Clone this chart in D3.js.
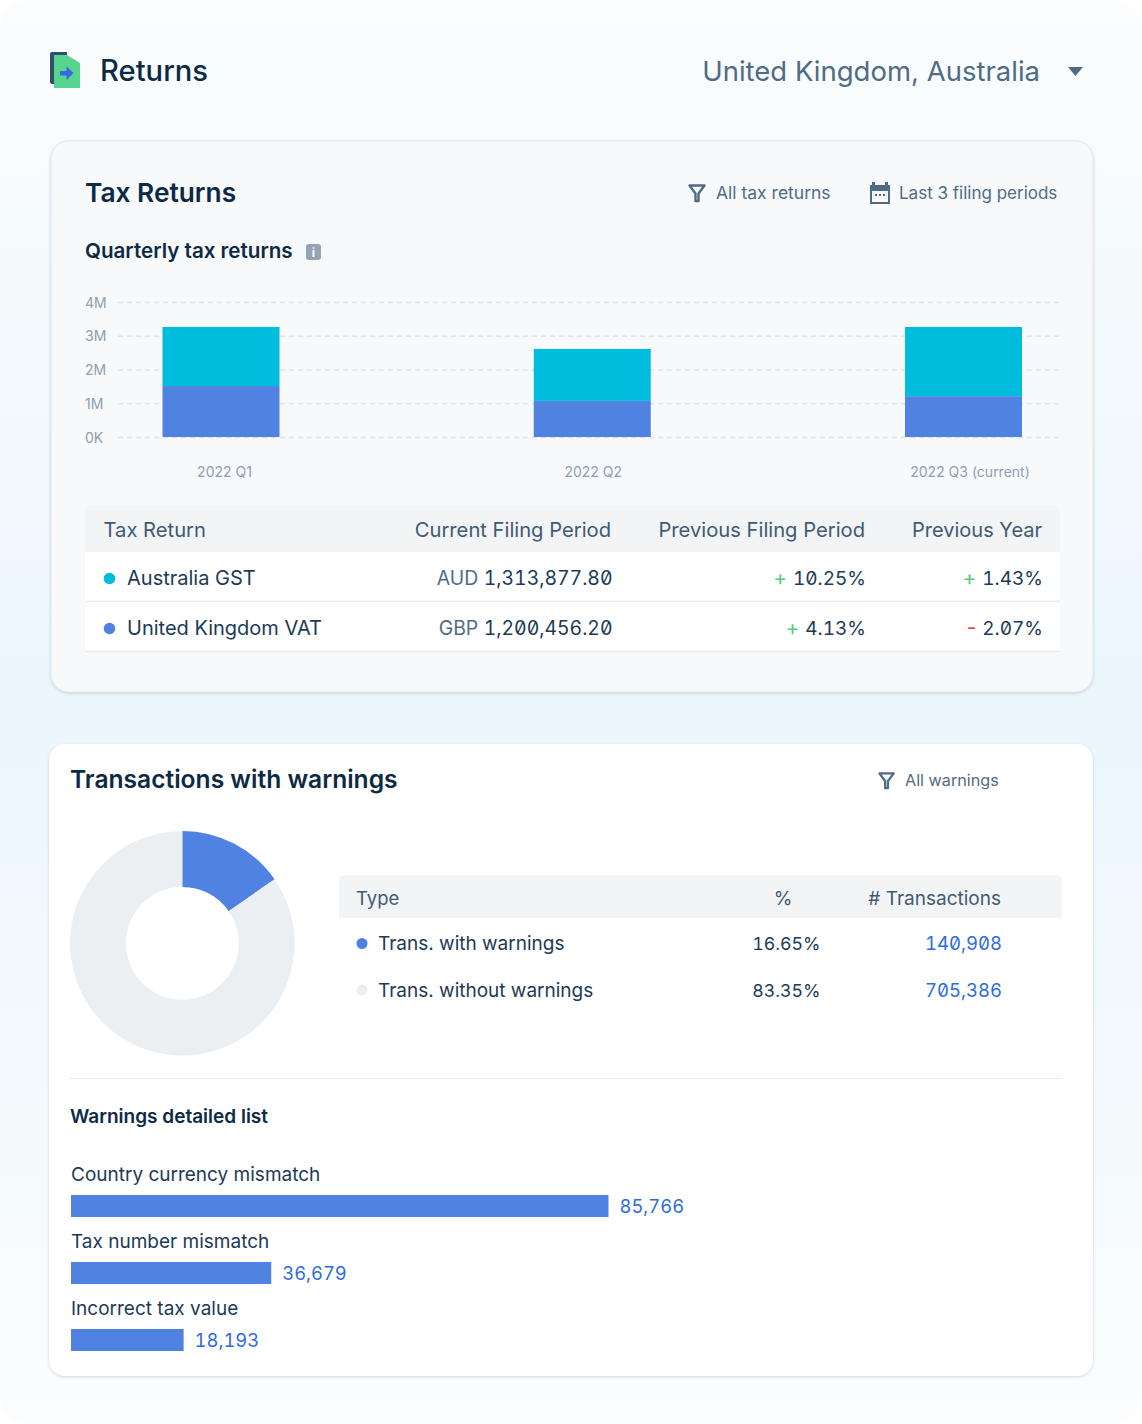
<!DOCTYPE html>
<html lang="en">
<head>
<meta charset="UTF-8">
<title>Returns</title>
<script src="https://d3js.org/d3.v7.min.js"></script>
<style>
  html, body { margin: 0; padding: 0; background: #fff; }
  svg { display: block; }
  text { font-family: Inter, "Noto Sans", sans-serif; }
  .num { font-feature-settings: "tnum" 1, "zero" 1; }
  .grid line { stroke: #dde4ea; stroke-width: 1.3; stroke-dasharray: 5 4; }
  .grid text, .quarter text { fill: #8d9fb0; font-size: 14px; }
</style>
</head>
<body>
<svg id="page" width="1142" height="1424"></svg>
<script>
// quarterly stacked bars, in millions
var quarters = ["2022 Q1", "2022 Q2", "2022 Q3 (current)"];
var ukVat = [1.51, 1.07, 1.21];
var australiaGst = [1.75, 1.54, 2.05];
var yTicks = [0, 1, 2, 3, 4];
var yTickLabels = ["0K", "1M", "2M", "3M", "4M"];

// tax return table
var returnHeaders = ["Tax Return", "Current Filing Period", "Previous Filing Period", "Previous Year"];
var returnNames = ["Australia GST", "United Kingdom VAT"];
var currencies = ["AUD", "GBP"];
var currentAmounts = ["1,313,877.80", "1,200,456.20"];
var prevPeriodSigns = ["+", "+"];
var prevPeriodChanges = ["10.25%", "4.13%"];
var prevYearSigns = ["+", "-"];
var prevYearChanges = ["1.43%", "2.07%"];

// donut, the slice is drawn a bit smaller than its printed share
var warningTypes = ["Trans. with warnings", "Trans. without warnings"];
var donutShares = [15.35, 84.65];
var warningPercents = ["16.65%", "83.35%"];
var warningCounts = ["140,908", "705,386"];

// detailed list, bar lengths as drawn in the picture
var detailNames = ["Country currency mismatch", "Tax number mismatch", "Incorrect tax value"];
var detailBars = [85766, 31950, 17970];
var detailLabels = ["85,766", "36,679", "18,193"];

var TEAL = "#00bcdd", BLUE = "#5082e2", GREY = "#ebeff2", LINK = "#2f6be0";
var DARK = "#0d2a45", BODY = "#1c3a56", MUTED = "#4f6b85", HEAD = "#3f5a73";

var svg = d3.select("#page");
var defs = svg.append("defs");

var bg = defs.append("linearGradient").attr("id", "bg").attr("x1", 0).attr("y1", 0).attr("x2", 0).attr("y2", 1);
bg.append("stop").attr("offset", "0%").attr("stop-color", "#fbfdfe");
bg.append("stop").attr("offset", "50%").attr("stop-color", "#ebf7fc");
bg.append("stop").attr("offset", "100%").attr("stop-color", "#fbfdfe");

var soft = defs.append("filter").attr("id", "soft").attr("x", "-5%").attr("y", "-5%").attr("width", "110%").attr("height", "110%");
soft.append("feDropShadow").attr("dx", 0).attr("dy", 1).attr("stdDeviation", 1.6).attr("flood-color", "#8a99a8").attr("flood-opacity", 0.4);

function label(x, y, str, size, fill, weight, anchor) {
  return svg.append("text")
    .attr("x", x).attr("y", y)
    .attr("font-size", size)
    .attr("fill", fill)
    .attr("font-weight", weight || 400)
    .attr("text-anchor", anchor || "start")
    .text(str);
}

svg.append("rect").attr("width", 1142).attr("height", 1424).attr("rx", 28).attr("fill", "url(#bg)");

// header
svg.append("path").attr("fill", "#2f4f6f").attr("d", "M52 52H67V56H58V84H52Q50 84 50 82V54Q50 52 52 52Z");
svg.append("path").attr("fill", "#57d58f").attr("d", "M54 55H67L80 63V88H54Z");
svg.append("path").attr("fill", "#3a66e0").attr("d", "M60 71H66.500V66.500L73.500 73L66.500 80V75.500H60Z");
label(100, 81, "Returns", 29.200, DARK, 500);
label(1040, 81, "United Kingdom, Australia", 27.500, MUTED, 400, "end");
svg.append("path").attr("fill", MUTED).attr("d", "M1068 67H1083L1075.500 76Z");

// cards
svg.append("rect").attr("x", 51).attr("y", 141).attr("width", 1042).attr("height", 551).attr("rx", 18)
  .attr("fill", "#f8f9fb").attr("stroke", "#e3e8ed").attr("filter", "url(#soft)");
svg.append("rect").attr("x", 49).attr("y", 744).attr("width", 1044).attr("height", 632).attr("rx", 16)
  .attr("fill", "#fff").attr("filter", "url(#soft)");

function filterIcon(x, y, s) {
  svg.append("path").attr("fill", "none").attr("stroke", MUTED).attr("stroke-width", 2.4).attr("stroke-linejoin", "round")
    .attr("transform", "translate(" + x + "," + y + ") scale(" + s + ")")
    .attr("d", "M1.500 1.500H16.500L10.500 9.500V17H7.500V9.500Z");
}

// first card titles
label(85, 202, "Tax Returns", 26.300, DARK, 600);
filterIcon(688, 184, 1);
label(716, 199, "All tax returns", 17.500, MUTED);
svg.append("path").attr("fill", MUTED).attr("fill-rule", "evenodd")
  .attr("d", "M872 182H875V185H885V182H888V185H890V204H870V185H872ZM872 191V202H888V191ZM875 194H877V196H875ZM879 194H881V196H879ZM883 194H885V196H883Z");
label(899, 199, "Last 3 filing periods", 17, MUTED);
label(85, 258, "Quarterly tax returns", 20.600, DARK, 600);
svg.append("rect").attr("x", 306).attr("y", 244).attr("width", 15).attr("height", 16).attr("rx", 3).attr("fill", "#95a3b3");
label(313.500, 257, "i", 12, "#fff", 700, "middle");

// stacked bars
var y = d3.scaleLinear().domain([0, 4]).range([437, 302]);
var x = d3.scalePoint().domain(quarters).range([221, 963.500]);
var barWidth = 117;
var labelNudge = [3, 0.500, 6];

svg.append("g").attr("class", "grid").attr("transform", "translate(118,0)")
  .call(d3.axisLeft(y).tickValues(yTicks).tickSize(-942).tickFormat(function(d, i) { return yTickLabels[i]; }))
  .call(function(g) {
    g.select(".domain").remove();
    g.selectAll("text").attr("x", -33).attr("dy", "0.36em").attr("text-anchor", "start");
  });

var stack = d3.stack().keys([0, 1]).value(function(d, k) { return (k === 0 ? ukVat : australiaGst)[d]; });
var layers = stack(d3.range(quarters.length));
svg.selectAll("g.layer").data(layers).enter().append("g")
  .attr("class", "layer")
  .attr("fill", function(d, i) { return i === 0 ? BLUE : TEAL; })
  .selectAll("rect").data(function(d) { return d; }).enter().append("rect")
  .attr("x", function(d, i) { return x(quarters[i]) - barWidth / 2; })
  .attr("y", function(d) { return y(d[1]); })
  .attr("width", barWidth)
  .attr("height", function(d) { return y(d[0]) - y(d[1]); });

svg.append("g").attr("class", "quarter").attr("transform", "translate(0,437)")
  .call(d3.axisBottom(x).tickSize(0).tickPadding(26))
  .call(function(g) {
    g.select(".domain").remove();
    g.selectAll("text").attr("dx", function(d, i) { return labelNudge[i]; }).attr("dy", "1.0em");
  });

// tax return table
svg.append("path").attr("fill", "#f3f4f6").attr("d", "M85 552V512Q85 506 91 506H1054Q1060 506 1060 512V552Z");
svg.append("rect").attr("x", 85).attr("y", 552).attr("width", 975).attr("height", 99).attr("fill", "#fff");
var returnHeaderX = [103.500, 611, 865, 1042];
returnHeaders.forEach(function(h, i) {
  label(returnHeaderX[i], 537, h, i === 3 ? 20 : 20.200, HEAD, 400, i === 0 ? "start" : "end");
});
var rowY = d3.scalePoint().domain(returnNames).range([585, 635]);
returnNames.forEach(function(name, i) {
  var base = rowY(name);
  svg.append("line").attr("x1", 85).attr("x2", 1060).attr("y1", base + 16.500).attr("y2", base + 16.500).attr("stroke", "#e9ecef").attr("stroke-width", 1.500);
  svg.append("circle").attr("cx", 109.500).attr("cy", base - 6.500).attr("r", 5.800).attr("fill", i === 0 ? TEAL : BLUE);
  label(127, base, name, 20, BODY);
  var cur = label(612.500, base, null, 19.400, BODY, 400, "end");
  cur.append("tspan").attr("fill", MUTED).text(currencies[i] + " ");
  cur.append("tspan").attr("class", "num").text(currentAmounts[i]);
  [[866, prevPeriodSigns[i], prevPeriodChanges[i]], [1043, prevYearSigns[i], prevYearChanges[i]]].forEach(function(c) {
    var t = label(c[0], base, null, 19, BODY, 400, "end");
    t.append("tspan").attr("fill", c[1] === "+" ? "#57c98a" : "#e5492f").attr("font-size", 21).text(c[1] + " ");
    t.append("tspan").attr("class", "num").text(c[2]);
  });
});

// second card titles
label(70, 788, "Transactions with warnings", 24.600, DARK, 600);
filterIcon(878, 772, 0.95);
label(905, 786, "All warnings", 16.200, MUTED);

// donut
var pie = d3.pie().sort(null)(donutShares);
var arc = d3.arc().innerRadius(56.400).outerRadius(112.300);
svg.append("g").attr("transform", "translate(182.300,943.300)")
  .selectAll("path").data(pie).enter().append("path")
  .attr("d", arc)
  .attr("fill", function(d, i) { return i === 0 ? BLUE : GREY; });

// warnings table
svg.append("path").attr("fill", "#f3f4f6").attr("d", "M339 918V881Q339 875 345 875H1056Q1062 875 1062 881V918Z");
label(356, 904.500, "Type", 18.500, HEAD);
label(783, 904.500, "%", 19, HEAD, 400, "middle");
label(1001, 904.500, "# Transactions", 19, HEAD, 400, "end");
var typeY = d3.scalePoint().domain(warningTypes).range([950, 996.500]);
warningTypes.forEach(function(name, i) {
  var base = typeY(name);
  svg.append("circle").attr("cx", 362).attr("cy", base - 6.500).attr("r", 5.500).attr("fill", i === 0 ? BLUE : GREY);
  label(378, base, name, 19, BODY);
  label(820.500, base, warningPercents[i], 17.800, BODY, 400, "end").attr("class", "num");
  label(1002, base, warningCounts[i], 18.500, LINK, 400, "end").attr("class", "num");
});

svg.append("line").attr("x1", 70).attr("x2", 1062).attr("y1", 1078.500).attr("y2", 1078.500).attr("stroke", "#e8ebee");

// detailed list
label(70, 1123, "Warnings detailed list", 19, DARK, 600);
var barX = d3.scaleLinear().domain([0, d3.max(detailBars)]).range([71, 608.500]);
var barY = d3.scalePoint().domain(detailNames).range([1195, 1329]);
var detailRows = svg.selectAll("g.detail").data(detailNames).enter().append("g").attr("class", "detail");
detailRows.append("rect")
  .attr("x", barX(0))
  .attr("y", function(d) { return barY(d); })
  .attr("width", function(d, i) { return barX(detailBars[i]) - barX(0); })
  .attr("height", 22)
  .attr("fill", BLUE);
detailRows.append("text")
  .attr("x", barX(0))
  .attr("y", function(d) { return barY(d) - 14; })
  .attr("font-size", 19).attr("fill", BODY)
  .text(function(d) { return d; });
detailRows.append("text")
  .attr("class", "num")
  .attr("x", function(d, i) { return barX(detailBars[i]) + 11; })
  .attr("y", function(d) { return barY(d) + 18; })
  .attr("font-size", 18.400).attr("fill", LINK)
  .text(function(d, i) { return detailLabels[i]; });
</script>
</body>
</html>
